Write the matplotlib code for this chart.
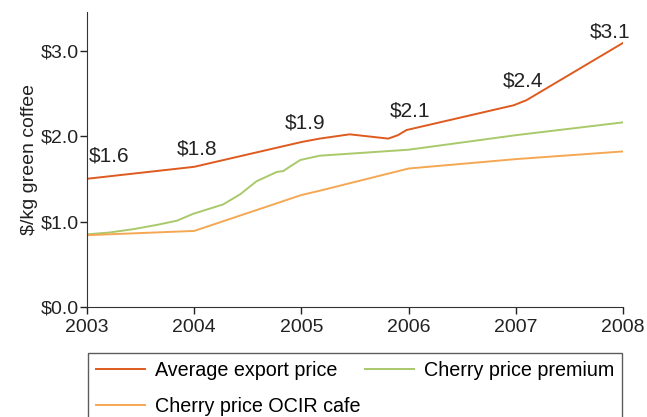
import matplotlib.pyplot as plt
from matplotlib.ticker import FuncFormatter

plt.rcParams['font.family'] = ['Liberation Sans', 'DejaVu Sans']

# average export price
exp_x = [2003, 2004, 2005, 2005.17, 2005.45, 2005.81, 2005.9, 2005.98, 2006.98, 2007.1, 2008]
exp_y = [1.50, 1.64, 1.93, 1.97, 2.02, 1.97, 2.01, 2.07, 2.36, 2.42, 3.09]

# cherry price premium
prem_x = [2003, 2003.2, 2003.43, 2003.65, 2003.84, 2003.99, 2004.27, 2004.43, 2004.58, 2004.77,
          2004.83, 2004.89, 2004.99, 2005.17, 2006, 2007, 2008]
prem_y = [0.85, 0.87, 0.91, 0.96, 1.01, 1.09, 1.20, 1.32, 1.47, 1.58, 1.59, 1.64, 1.72, 1.77,
          1.84, 2.01, 2.16]

# cherry price OCIR cafe
ocir_x = [2003, 2004, 2005, 2005.17, 2006, 2007, 2008]
ocir_y = [0.84, 0.89, 1.31, 1.36, 1.62, 1.73, 1.82]

lab_txt = ['$1.6', '$1.8', '$1.9', '$2.1', '$2.4', '$3.1']
lab_x = [2003.21, 2004.03, 2005.03, 2006.01, 2007.07, 2007.88]
lab_y = [1.77, 1.85, 2.15, 2.29, 2.64, 3.22]

years = [2003, 2004, 2005, 2006, 2007, 2008]
yticks = [0, 1, 2, 3]

fig = plt.figure(figsize=(6.47, 4.17), dpi=100)
ax = fig.add_axes([0.1345, 0.2638, 0.8285, 0.7072])

l1, = ax.plot(exp_x, exp_y, color='#DF5A1E', lw=1.4, label='Average export price')
l2, = ax.plot(prem_x, prem_y, color='#A9C96B', lw=1.4, label='Cherry price premium')
l3, = ax.plot(ocir_x, ocir_y, color='#F4A853', lw=1.4, label='Cherry price OCIR cafe')

for t, x, y in zip(lab_txt, lab_x, lab_y):
    ax.text(x, y, t, fontsize=15, ha='center', va='center', color='#222222')

ax.set_xlim(2003, 2008)
ax.set_ylim(0, 3.45)
ax.set_xticks(years)
ax.set_yticks(yticks)
ax.yaxis.set_major_formatter(FuncFormatter(lambda v, p: '$%.1f' % v))
ax.tick_params(labelsize=14, colors='#222222', length=5, width=1)
ax.tick_params(axis='x', pad=4)
ax.tick_params(axis='y', pad=1)
ax.set_ylabel('$/kg green coffee', fontsize=14, color='#222222', labelpad=2)

for s in ['top', 'right']:
    ax.spines[s].set_visible(False)
for s in ['left', 'bottom']:
    ax.spines[s].set_color('#333333')

# columns fill first: avg + OCIR in col 1, premium in col 2
leg = ax.legend([l1, l3, l2], [l1.get_label(), l3.get_label(), l2.get_label()],
                loc='upper left', bbox_to_anchor=(0.002, -0.356, 0.996, 0.2), mode='expand',
                ncol=2, fontsize=14.2, frameon=True, fancybox=False, handlelength=2.5,
                borderaxespad=0, columnspacing=0.8, handletextpad=0.5, labelspacing=0.85,
                borderpad=0.4)
leg.get_frame().set_edgecolor('#333333')
leg.get_frame().set_linewidth(1)

fig.savefig('out.png', dpi=100)
